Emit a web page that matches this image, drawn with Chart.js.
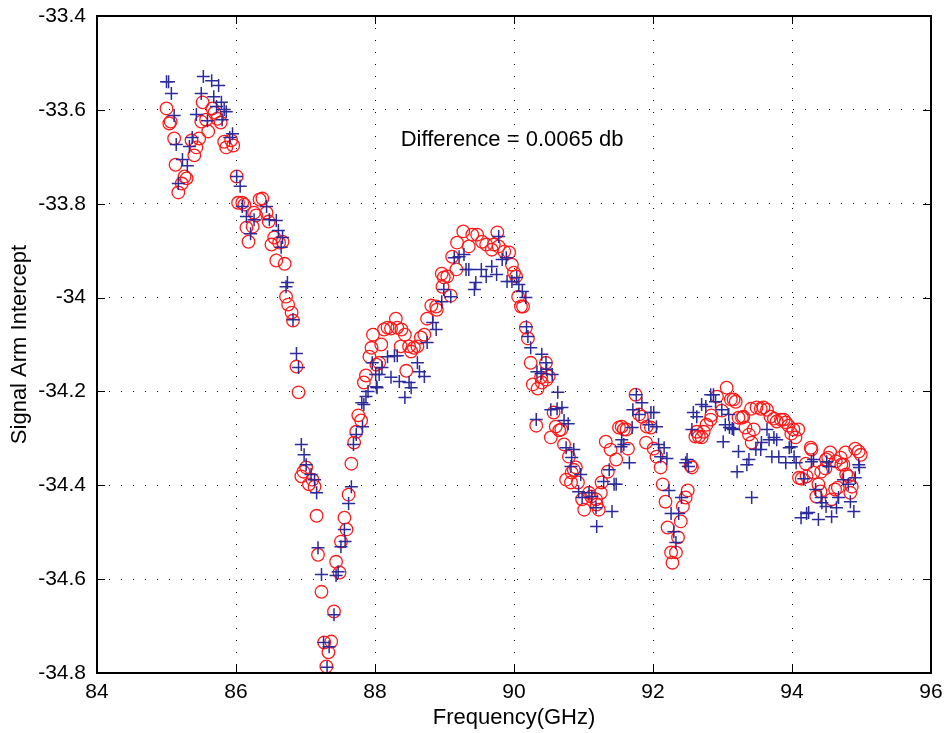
<!DOCTYPE html>
<html>
<head>
<meta charset="utf-8">
<title>Signal Arm Intercept</title>
<script src="https://cdn.jsdelivr.net/npm/chart.js@4.4.1/dist/chart.umd.min.js"></script>
<style>
  html, body { margin: 0; padding: 0; background: #fff; }
  #chart { display: block; }
</style>
</head>
<body>
<canvas id="chart" width="947" height="733"></canvas>
<script>
// ---- data ----
const xTicks = [84, 86, 88, 90, 92, 94, 96];
const yTicks = [-34.8, -34.6, -34.4, -34.2, -34.0, -33.8, -33.6, -33.4];

const xTitle = 'Frequency(GHz)';
const yTitle = 'Signal Arm Intercept';
const noteText = 'Difference = 0.0065 db';
const noteX = 88.37;
const noteY = -33.665;

// red circles
const redFreq = [85.00,85.04,85.06,85.11,85.13,85.17,85.22,85.26,85.29,85.36,85.40,85.43,85.47,85.50,85.52,85.57,85.60,85.66,85.69,85.73,
  85.78,85.83,85.86,85.93,85.96,86.01,86.03,86.09,86.12,86.15,86.18,86.24,86.26,86.29,86.34,86.38,86.44,86.47,86.51,86.55,
  86.58,86.62,86.67,86.70,86.72,86.75,86.80,86.82,86.87,86.90,86.94,86.97,87.01,87.05,87.10,87.13,87.16,87.18,87.23,87.27,
  87.30,87.33,87.37,87.41,87.44,87.49,87.51,87.56,87.59,87.62,87.66,87.70,87.73,87.76,87.80,87.84,87.87,87.92,87.95,87.97,
  88.02,88.06,88.09,88.13,88.18,88.23,88.30,88.32,88.38,88.37,88.43,88.45,88.49,88.52,88.56,88.61,88.66,88.71,88.75,88.81,
  88.88,88.89,88.97,88.96,88.99,89.04,89.09,89.11,89.17,89.18,89.27,89.35,89.40,89.47,89.54,89.60,89.68,89.71,89.76,89.78,
  89.86,89.93,89.97,90.00,90.03,90.06,90.10,90.13,90.17,90.20,90.24,90.27,90.32,90.34,90.40,90.39,90.46,90.47,90.50,90.53,
  90.57,90.60,90.65,90.68,90.72,90.75,90.79,90.82,90.83,90.86,90.89,90.92,90.98,91.01,91.08,91.11,91.18,91.19,91.22,91.25,
  91.26,91.32,91.35,91.39,91.47,91.51,91.55,91.58,91.62,91.64,91.75,91.80,91.84,91.90,91.91,91.97,92.01,92.05,92.11,92.14,
  92.18,92.21,92.26,92.28,92.33,92.36,92.40,92.43,92.47,92.50,92.54,92.56,92.61,92.63,92.66,92.70,92.73,92.77,92.83,92.84,
  92.92,92.99,93.06,93.12,93.16,93.19,93.23,93.28,93.30,93.33,93.38,93.41,93.42,93.45,93.49,93.55,93.59,93.64,93.69,93.74,
  93.78,93.84,93.88,93.91,93.95,93.99,94.02,94.05,94.09,94.10,94.14,94.20,94.21,94.27,94.28,94.31,94.35,94.38,94.41,94.42,
  94.48,94.49,94.52,94.55,94.57,94.63,94.62,94.66,94.70,94.71,94.74,94.77,94.78,94.81,94.84,94.86,94.91,94.96,94.99];
const redVals = [-33.597,-33.629,-33.625,-33.661,-33.717,-33.776,-33.757,-33.742,-33.746,-33.665,-33.697,-33.680,-33.661,-33.625,-33.584,-33.621,-33.646,-33.597,-33.606,-33.619,
  -33.627,-33.668,-33.680,-33.665,-33.676,-33.742,-33.798,-33.798,-33.802,-33.851,-33.881,-33.849,-33.819,-33.825,-33.791,-33.789,-33.819,-33.838,-33.887,-33.872,
  -33.921,-33.883,-33.881,-33.928,-33.998,-34.015,-34.032,-34.049,-34.147,-34.202,-34.381,-34.371,-34.362,-34.398,-34.388,-34.403,-34.465,-34.548,-34.627,-34.735,
  -34.786,-34.756,-34.733,-34.669,-34.563,-34.586,-34.520,-34.469,-34.494,-34.420,-34.354,-34.309,-34.286,-34.251,-34.262,-34.181,-34.166,-34.126,-34.107,-34.079,
  -34.143,-34.139,-34.100,-34.068,-34.064,-34.066,-34.045,-34.064,-34.068,-34.104,-34.079,-34.156,-34.104,-34.115,-34.107,-34.104,-34.085,-34.079,-34.045,-34.017,
  -34.019,-34.026,-33.977,-33.949,-33.957,-33.955,-33.996,-33.913,-33.940,-33.883,-33.859,-33.891,-33.866,-33.866,-33.881,-33.887,-33.898,-33.887,-33.861,-33.891,
  -33.902,-33.904,-33.930,-33.947,-33.955,-33.998,-34.019,-34.019,-34.064,-34.087,-34.139,-34.185,-34.273,-34.194,-34.181,-34.170,-34.139,-34.175,-34.168,-34.298,
  -34.245,-34.275,-34.283,-34.281,-34.313,-34.388,-34.339,-34.394,-34.373,-34.367,-34.362,-34.394,-34.430,-34.452,-34.416,-34.424,-34.430,-34.441,-34.452,-34.416,
  -34.394,-34.307,-34.371,-34.324,-34.345,-34.277,-34.275,-34.281,-34.281,-34.322,-34.207,-34.249,-34.254,-34.309,-34.275,-34.277,-34.322,-34.339,-34.362,-34.398,
  -34.435,-34.490,-34.543,-34.565,-34.543,-34.511,-34.477,-34.445,-34.426,-34.411,-34.358,-34.362,-34.296,-34.286,-34.296,-34.298,-34.286,-34.271,-34.260,-34.251,
  -34.211,-34.241,-34.192,-34.217,-34.217,-34.222,-34.256,-34.256,-34.254,-34.277,-34.292,-34.237,-34.309,-34.281,-34.234,-34.237,-34.234,-34.239,-34.254,-34.258,
  -34.264,-34.260,-34.260,-34.266,-34.273,-34.290,-34.281,-34.298,-34.281,-34.384,-34.386,-34.354,-34.381,-34.320,-34.324,-34.373,-34.424,-34.398,-34.413,-34.371,
  -34.364,-34.345,-34.341,-34.330,-34.430,-34.349,-34.409,-34.405,-34.341,-34.356,-34.356,-34.330,-34.377,-34.381,-34.416,-34.403,-34.322,-34.328,-34.335];

// blue pluses
const blueFreq = [85.00,85.03,85.07,85.11,85.14,85.17,85.23,85.30,85.33,85.37,85.43,85.50,85.53,85.59,85.65,85.68,85.72,85.75,85.79,85.80,
  85.83,85.86,85.91,85.95,86.01,86.06,86.09,86.15,86.21,86.26,86.44,86.48,86.58,86.61,86.65,86.67,86.72,86.74,86.82,86.87,
  86.90,86.94,86.98,87.01,87.08,87.13,87.16,87.18,87.23,87.26,87.31,87.34,87.41,87.44,87.47,87.51,87.56,87.57,87.62,87.66,
  87.69,87.73,87.82,87.81,87.84,87.87,87.90,87.96,88.02,88.01,88.03,88.06,88.10,88.18,88.23,88.28,88.32,88.35,88.43,88.49,
  88.52,88.61,88.64,88.71,88.75,88.83,88.88,88.96,88.99,89.09,89.14,89.21,89.28,89.31,89.35,89.43,89.45,89.53,89.60,89.68,
  89.75,89.78,89.83,89.89,89.90,89.97,90.04,90.07,90.12,90.17,90.18,90.20,90.24,90.32,90.33,90.39,90.40,90.46,90.47,90.55,
  90.63,90.53,90.62,90.69,90.72,90.78,90.75,90.86,90.83,90.82,90.96,90.93,90.98,91.08,91.12,91.18,91.19,91.29,91.37,91.41,
  91.44,91.47,91.54,91.55,91.58,91.66,91.70,91.71,91.76,91.80,91.84,91.94,91.97,92.01,92.05,92.08,92.11,92.16,92.20,92.23,
  92.26,92.30,92.33,92.37,92.41,92.47,92.49,92.51,92.56,92.58,92.63,92.70,92.76,92.83,92.87,92.90,92.99,93.01,93.04,93.09,
  93.10,93.14,93.16,93.21,93.23,93.35,93.38,93.42,93.48,93.55,93.56,93.64,93.67,93.71,93.74,93.78,93.81,93.91,93.96,93.99,
  94.03,94.06,94.13,94.17,94.21,94.24,94.28,94.31,94.34,94.38,94.42,94.43,94.49,94.50,94.53,94.57,94.64,94.67,94.74,94.81,
  94.84,94.89,94.91,94.96,94.97];
const blueVals = [-33.540,-33.540,-33.565,-33.612,-33.674,-33.757,-33.706,-33.719,-33.678,-33.659,-33.610,-33.565,-33.529,-33.623,-33.538,-33.572,-33.593,-33.548,-33.584,-33.621,
  -33.599,-33.604,-33.659,-33.651,-33.742,-33.763,-33.806,-33.827,-33.864,-33.834,-33.806,-33.834,-33.836,-33.857,-33.893,-33.872,-33.977,-33.968,-34.047,-34.119,
  -34.149,-34.313,-34.335,-34.356,-34.377,-34.388,-34.416,-34.533,-34.590,-34.735,-34.788,-34.744,-34.676,-34.592,-34.584,-34.531,-34.494,-34.520,-34.439,-34.403,
  -34.313,-34.292,-34.275,-34.224,-34.228,-34.211,-34.200,-34.139,-34.190,-34.164,-34.192,-34.164,-34.149,-34.126,-34.170,-34.124,-34.124,-34.179,-34.213,-34.181,
  -34.192,-34.139,-34.158,-34.168,-34.096,-34.053,-34.068,-34.009,-33.983,-33.998,-33.915,-33.913,-33.908,-33.940,-33.940,-33.983,-33.968,-33.940,-33.955,-33.934,
  -33.951,-33.870,-33.919,-33.915,-33.966,-33.966,-33.957,-33.972,-33.987,-34.000,-34.062,-34.083,-34.107,-34.260,-34.158,-34.162,-34.121,-34.139,-34.153,-34.164,
  -34.202,-34.239,-34.237,-34.234,-34.262,-34.269,-34.320,-34.324,-34.341,-34.360,-34.377,-34.414,-34.426,-34.416,-34.424,-34.448,-34.488,-34.392,-34.367,-34.456,
  -34.398,-34.398,-34.318,-34.303,-34.313,-34.352,-34.277,-34.239,-34.207,-34.249,-34.224,-34.271,-34.245,-34.245,-34.275,-34.313,-34.339,-34.320,-34.343,-34.411,
  -34.460,-34.499,-34.522,-34.460,-34.426,-34.352,-34.345,-34.360,-34.281,-34.245,-34.254,-34.228,-34.232,-34.207,-34.207,-34.222,-34.239,-34.307,-34.271,-34.249,
  -34.277,-34.279,-34.281,-34.371,-34.328,-34.356,-34.345,-34.426,-34.324,-34.324,-34.309,-34.281,-34.303,-34.339,-34.298,-34.303,-34.339,-34.352,-34.320,-34.318,
  -34.339,-34.352,-34.469,-34.386,-34.460,-34.458,-34.350,-34.345,-34.409,-34.473,-34.426,-34.437,-34.445,-34.350,-34.360,-34.467,-34.448,-34.426,-34.388,-34.398,
  -34.435,-34.456,-34.384,-34.356,-34.362];

if (redFreq.length !== redVals.length) throw new Error('red ' + redFreq.length + ' vs ' + redVals.length);
if (blueFreq.length !== blueVals.length) throw new Error('blue ' + blueFreq.length + ' vs ' + blueVals.length);

function toPoints(xs, ys) {
  return xs.map((x, i) => ({ x: x, y: ys[i] }));
}

const fontFamily = '"Liberation Sans", Arial, Helvetica, sans-serif';

// frame, inward ticks on all four sides, and the text note
const framePlugin = {
  id: 'frame',
  afterDraw(chart) {
    const { ctx, chartArea: a } = chart;
    const xs = chart.scales.x, ys = chart.scales.y;
    const len = 8;
    ctx.save();
    ctx.strokeStyle = '#000';
    ctx.lineWidth = 1;
    ctx.beginPath();
    xTicks.forEach(v => {
      const px = Math.round(xs.getPixelForValue(v)) + 0.5;
      ctx.moveTo(px, a.bottom); ctx.lineTo(px, a.bottom - len);
      ctx.moveTo(px, a.top); ctx.lineTo(px, a.top + len);
    });
    yTicks.forEach(v => {
      const py = Math.round(ys.getPixelForValue(v)) + 0.5;
      ctx.moveTo(a.left, py); ctx.lineTo(a.left + len, py);
      ctx.moveTo(a.right, py); ctx.lineTo(a.right - len, py);
    });
    ctx.stroke();

    ctx.lineWidth = 2;
    ctx.strokeRect(a.left, a.top, a.right - a.left, a.bottom - a.top);

    ctx.fillStyle = '#000';
    ctx.font = '22px ' + fontFamily;
    ctx.textAlign = 'left';
    ctx.textBaseline = 'middle';
    ctx.fillText(noteText, xs.getPixelForValue(noteX), ys.getPixelForValue(noteY));
    ctx.restore();
  }
};

Chart.defaults.font.family = fontFamily;
Chart.defaults.font.size = 21;
Chart.defaults.color = '#000';

const gridOpts = { color: '#000', lineWidth: 1, drawTicks: false };

new Chart(document.getElementById('chart'), {
  type: 'scatter',
  data: {
    datasets: [
      {
        // first dataset is painted last, so the pluses sit on the circles
        label: 'blue',
        data: toPoints(blueFreq, blueVals),
        pointStyle: 'cross',
        pointRadius: 6.5,
        pointHoverRadius: 6.5,
        borderColor: '#2b2b9b',
        backgroundColor: '#2b2b9b',
        pointBorderWidth: 1.5,
        showLine: false
      },
      {
        label: 'red',
        data: toPoints(redFreq, redVals),
        pointStyle: 'circle',
        pointRadius: 6.3,
        pointHoverRadius: 6.3,
        borderColor: '#ff1a1a',
        backgroundColor: 'rgba(0,0,0,0)',
        pointBorderWidth: 1.3,
        showLine: false
      }
    ]
  },
  options: {
    responsive: false,
    devicePixelRatio: 1,
    animation: false,
    events: [],
    layout: { padding: { top: 16, right: 16, left: 0, bottom: 0 } },
    plugins: {
      legend: { display: false },
      tooltip: { enabled: false }
    },
    scales: {
      x: {
        type: 'linear',
        min: 84,
        max: 96,
        afterBuildTicks: s => { s.ticks = xTicks.map(v => ({ value: v })); },
        // fixed box, and no extra room for the end labels
        afterFit: s => { s.height = 60; s.paddingLeft = 0; s.paddingRight = 0; },
        ticks: { padding: 7, maxRotation: 0, callback: v => String(v) },
        grid: gridOpts,
        border: { display: false, dash: [1, 11] },
        title: { display: true, text: xTitle, font: { size: 22 }, padding: { top: 4, bottom: 2 } }
      },
      y: {
        type: 'linear',
        min: -34.8,
        max: -33.4,
        afterBuildTicks: s => { s.ticks = yTicks.map(v => ({ value: v })); },
        afterFit: s => { s.width = 97; s.paddingTop = 0; s.paddingBottom = 0; },
        ticks: { padding: 11, callback: v => String(Math.round(v * 10) / 10) },
        grid: gridOpts,
        border: { display: false, dash: [1, 11] },
        title: { display: true, text: yTitle, font: { size: 22 }, padding: { top: 7, bottom: 0 } }
      }
    }
  },
  plugins: [framePlugin]
});
</script>
</body>
</html>
